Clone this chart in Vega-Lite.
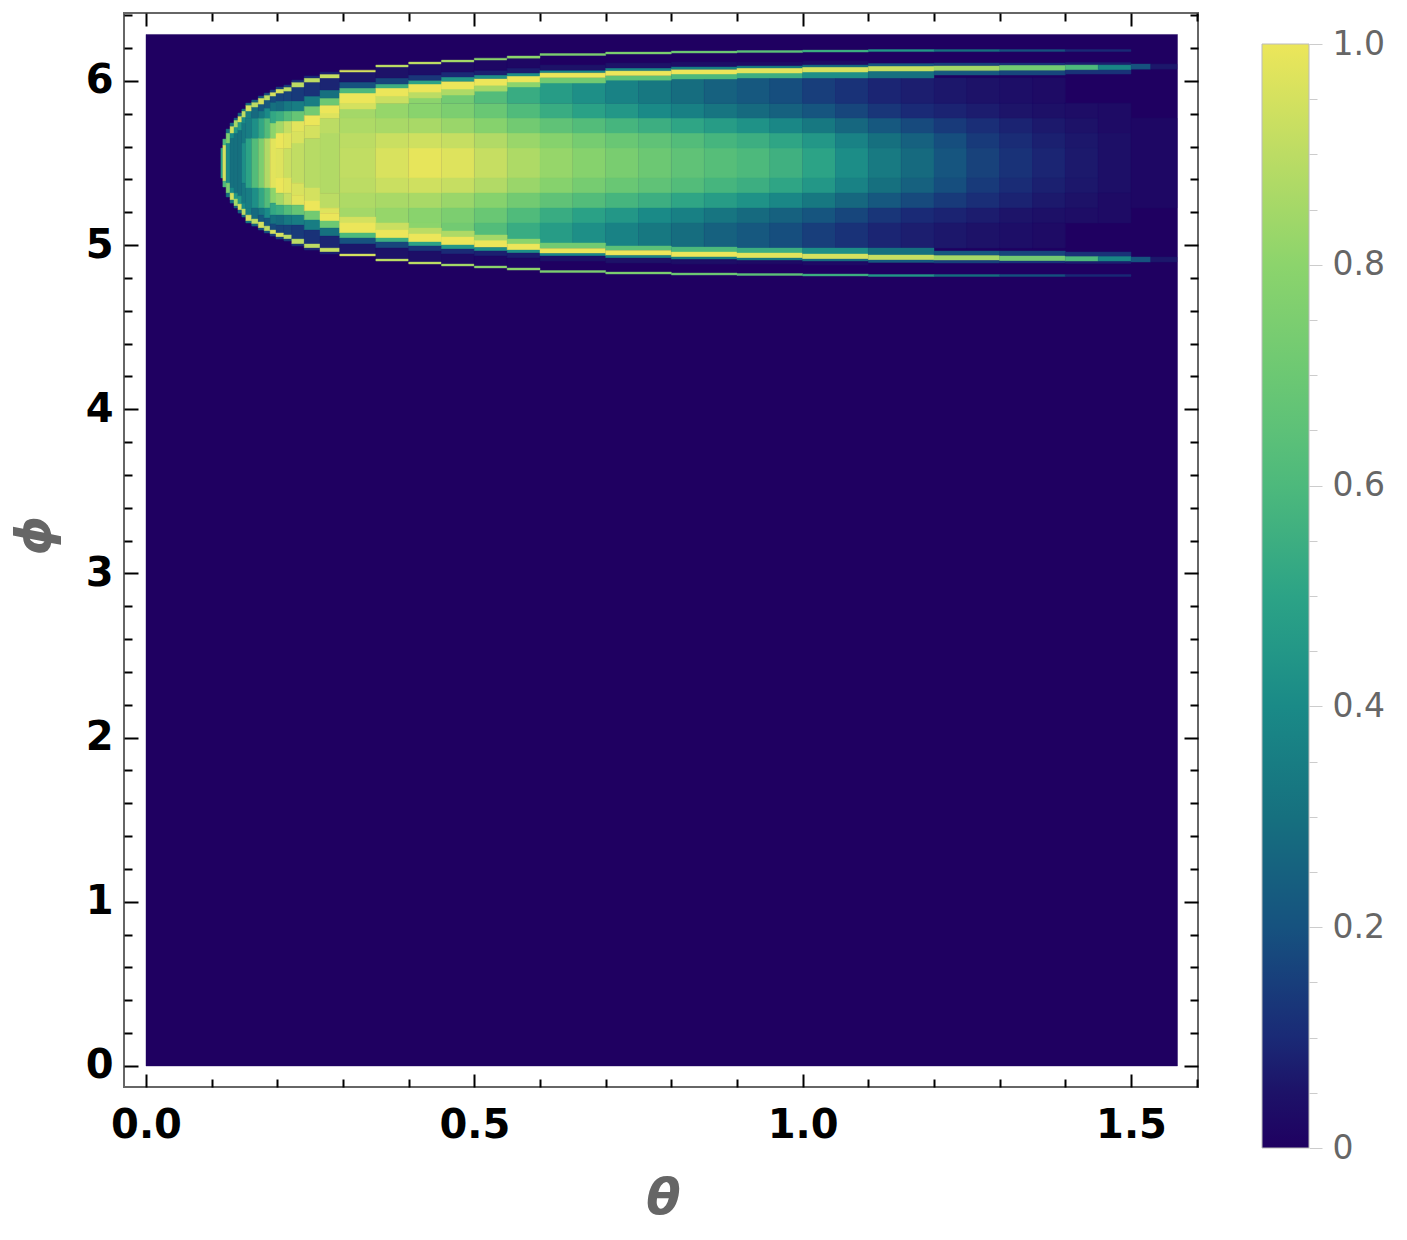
{"$schema":"https://vega.github.io/schema/vega-lite/v6.json","autosize":{"type":"none"},"padding":{"left":124,"top":13,"right":209,"bottom":153},"width":1074,"height":1074,"background":"white","config":{"view":{"stroke":"#666666","strokeWidth":2},"axis":{"grid":false,"domain":false,"tickColor":"#000000","tickWidth":2,"labelFont":"DejaVu Sans","labelFontWeight":"bold","labelFontSize":40,"labelColor":"#000000","labelOverlap":false,"labelBound":false,"labelFlush":false,"titleFont":"DejaVu Sans","titleFontWeight":"bold","titleFontStyle":"italic","titleFontSize":50,"titleColor":"#666666"}},
"datasets":{"tick":[{"t":0,"p":0}],
"cells":[
{"a":0,"b":1.5708,"c":0,"d":6.2832,"v":0},
{"a":0.114,"b":0.117,"c":5.409,"d":5.591,"v":0.5},
{"a":0.117,"b":0.122,"c":5.39,"d":5.61,"v":0.95},{"a":0.117,"b":0.122,"c":5.61,"d":5.646,"v":0.6},{"a":0.117,"b":0.122,"c":5.354,"d":5.39,"v":0.6},
{"a":0.122,"b":0.128,"c":5.378,"d":5.622,"v":0.4},{"a":0.122,"b":0.128,"c":5.622,"d":5.683,"v":0.75},{"a":0.122,"b":0.128,"c":5.317,"d":5.378,"v":0.75},{"a":0.122,"b":0.128,"c":5.683,"d":5.707,"v":0.3},{"a":0.122,"b":0.128,"c":5.293,"d":5.317,"v":0.3},
{"a":0.128,"b":0.134,"c":5.348,"d":5.652,"v":0.3},{"a":0.128,"b":0.134,"c":5.652,"d":5.683,"v":0.4},{"a":0.128,"b":0.134,"c":5.317,"d":5.348,"v":0.4},{"a":0.128,"b":0.134,"c":5.683,"d":5.725,"v":0.95},{"a":0.128,"b":0.134,"c":5.275,"d":5.317,"v":0.95},{"a":0.128,"b":0.134,"c":5.725,"d":5.744,"v":0.3},{"a":0.128,"b":0.134,"c":5.256,"d":5.275,"v":0.3},
{"a":0.134,"b":0.14,"c":5.317,"d":5.683,"v":0.3},{"a":0.134,"b":0.14,"c":5.683,"d":5.719,"v":0.45},{"a":0.134,"b":0.14,"c":5.281,"d":5.317,"v":0.45},{"a":0.134,"b":0.14,"c":5.719,"d":5.762,"v":0.85},{"a":0.134,"b":0.14,"c":5.238,"d":5.281,"v":0.85},{"a":0.134,"b":0.14,"c":5.762,"d":5.774,"v":0.25},{"a":0.134,"b":0.14,"c":5.226,"d":5.238,"v":0.25},
{"a":0.14,"b":0.146,"c":5.299,"d":5.701,"v":0.3},{"a":0.14,"b":0.146,"c":5.701,"d":5.75,"v":0.45},{"a":0.14,"b":0.146,"c":5.25,"d":5.299,"v":0.45},{"a":0.14,"b":0.146,"c":5.75,"d":5.786,"v":0.95},{"a":0.14,"b":0.146,"c":5.214,"d":5.25,"v":0.95},{"a":0.14,"b":0.146,"c":5.786,"d":5.805,"v":0.25},{"a":0.14,"b":0.146,"c":5.195,"d":5.214,"v":0.25},
{"a":0.146,"b":0.152,"c":5.378,"d":5.622,"v":0.42},{"a":0.146,"b":0.152,"c":5.622,"d":5.744,"v":0.33},{"a":0.146,"b":0.152,"c":5.256,"d":5.378,"v":0.33},{"a":0.146,"b":0.152,"c":5.744,"d":5.78,"v":0.4},{"a":0.146,"b":0.152,"c":5.22,"d":5.256,"v":0.4},{"a":0.146,"b":0.152,"c":5.78,"d":5.817,"v":0.9},{"a":0.146,"b":0.152,"c":5.183,"d":5.22,"v":0.9},{"a":0.146,"b":0.152,"c":5.817,"d":5.829,"v":0.3},{"a":0.146,"b":0.152,"c":5.171,"d":5.183,"v":0.3},
{"a":0.152,"b":0.161,"c":5.348,"d":5.652,"v":0.5},{"a":0.152,"b":0.161,"c":5.652,"d":5.774,"v":0.35},{"a":0.152,"b":0.161,"c":5.226,"d":5.348,"v":0.35},{"a":0.152,"b":0.161,"c":5.774,"d":5.817,"v":0.35},{"a":0.152,"b":0.161,"c":5.183,"d":5.226,"v":0.35},{"a":0.152,"b":0.161,"c":5.817,"d":5.853,"v":0.95},{"a":0.152,"b":0.161,"c":5.147,"d":5.183,"v":0.95},{"a":0.152,"b":0.161,"c":5.853,"d":5.865,"v":0.3},{"a":0.152,"b":0.161,"c":5.135,"d":5.147,"v":0.3},
{"a":0.161,"b":0.171,"c":5.348,"d":5.652,"v":0.62},{"a":0.161,"b":0.171,"c":5.652,"d":5.774,"v":0.42},{"a":0.161,"b":0.171,"c":5.226,"d":5.348,"v":0.42},{"a":0.161,"b":0.171,"c":5.774,"d":5.841,"v":0.28},{"a":0.161,"b":0.171,"c":5.159,"d":5.226,"v":0.28},{"a":0.161,"b":0.171,"c":5.841,"d":5.871,"v":0.9},{"a":0.161,"b":0.171,"c":5.129,"d":5.159,"v":0.9},{"a":0.161,"b":0.171,"c":5.871,"d":5.884,"v":0.25},{"a":0.161,"b":0.171,"c":5.116,"d":5.129,"v":0.25},
{"a":0.171,"b":0.18,"c":5.348,"d":5.652,"v":0.75},{"a":0.171,"b":0.18,"c":5.652,"d":5.774,"v":0.52},{"a":0.171,"b":0.18,"c":5.226,"d":5.348,"v":0.52},{"a":0.171,"b":0.18,"c":5.774,"d":5.817,"v":0.33},{"a":0.171,"b":0.18,"c":5.183,"d":5.226,"v":0.33},{"a":0.171,"b":0.18,"c":5.817,"d":5.859,"v":0.22},{"a":0.171,"b":0.18,"c":5.141,"d":5.183,"v":0.22},{"a":0.171,"b":0.18,"c":5.859,"d":5.896,"v":0.95},{"a":0.171,"b":0.18,"c":5.104,"d":5.141,"v":0.95},{"a":0.171,"b":0.18,"c":5.896,"d":5.908,"v":0.2},{"a":0.171,"b":0.18,"c":5.092,"d":5.104,"v":0.2},
{"a":0.18,"b":0.189,"c":5.348,"d":5.652,"v":0.88},{"a":0.18,"b":0.189,"c":5.652,"d":5.774,"v":0.62},{"a":0.18,"b":0.189,"c":5.226,"d":5.348,"v":0.62},{"a":0.18,"b":0.189,"c":5.774,"d":5.835,"v":0.4},{"a":0.18,"b":0.189,"c":5.165,"d":5.226,"v":0.4},{"a":0.18,"b":0.189,"c":5.835,"d":5.884,"v":0.22},{"a":0.18,"b":0.189,"c":5.116,"d":5.165,"v":0.22},{"a":0.18,"b":0.189,"c":5.884,"d":5.914,"v":0.9},{"a":0.18,"b":0.189,"c":5.086,"d":5.116,"v":0.9},{"a":0.18,"b":0.189,"c":5.914,"d":5.926,"v":0.2},{"a":0.18,"b":0.189,"c":5.074,"d":5.086,"v":0.2},
{"a":0.189,"b":0.198,"c":5.348,"d":5.652,"v":0.98},{"a":0.189,"b":0.198,"c":5.652,"d":5.744,"v":0.8},{"a":0.189,"b":0.198,"c":5.256,"d":5.348,"v":0.8},{"a":0.189,"b":0.198,"c":5.744,"d":5.817,"v":0.52},{"a":0.189,"b":0.198,"c":5.183,"d":5.256,"v":0.52},{"a":0.189,"b":0.198,"c":5.817,"d":5.871,"v":0.3},{"a":0.189,"b":0.198,"c":5.129,"d":5.183,"v":0.3},{"a":0.189,"b":0.198,"c":5.871,"d":5.908,"v":0.18},{"a":0.189,"b":0.198,"c":5.092,"d":5.129,"v":0.18},{"a":0.189,"b":0.198,"c":5.908,"d":5.932,"v":0.95},{"a":0.189,"b":0.198,"c":5.068,"d":5.092,"v":0.95},{"a":0.189,"b":0.198,"c":5.932,"d":5.945,"v":0.15},{"a":0.189,"b":0.198,"c":5.055,"d":5.068,"v":0.15},
{"a":0.198,"b":0.21,"c":5.409,"d":5.591,"v":0.97},{"a":0.198,"b":0.21,"c":5.591,"d":5.683,"v":1},{"a":0.198,"b":0.21,"c":5.317,"d":5.409,"v":1},{"a":0.198,"b":0.21,"c":5.683,"d":5.756,"v":0.85},{"a":0.198,"b":0.21,"c":5.244,"d":5.317,"v":0.85},{"a":0.198,"b":0.21,"c":5.756,"d":5.817,"v":0.55},{"a":0.198,"b":0.21,"c":5.183,"d":5.244,"v":0.55},{"a":0.198,"b":0.21,"c":5.817,"d":5.878,"v":0.28},{"a":0.198,"b":0.21,"c":5.122,"d":5.183,"v":0.28},{"a":0.198,"b":0.21,"c":5.878,"d":5.926,"v":0.16},{"a":0.198,"b":0.21,"c":5.074,"d":5.122,"v":0.16},{"a":0.198,"b":0.21,"c":5.926,"d":5.951,"v":0.95},{"a":0.198,"b":0.21,"c":5.049,"d":5.074,"v":0.95},{"a":0.198,"b":0.21,"c":5.951,"d":5.963,"v":0.15},{"a":0.198,"b":0.21,"c":5.037,"d":5.049,"v":0.15},
{"a":0.21,"b":0.222,"c":5.409,"d":5.591,"v":0.93},{"a":0.21,"b":0.222,"c":5.591,"d":5.683,"v":0.98},{"a":0.21,"b":0.222,"c":5.317,"d":5.409,"v":0.98},{"a":0.21,"b":0.222,"c":5.683,"d":5.756,"v":0.92},{"a":0.21,"b":0.222,"c":5.244,"d":5.317,"v":0.92},{"a":0.21,"b":0.222,"c":5.756,"d":5.817,"v":0.62},{"a":0.21,"b":0.222,"c":5.183,"d":5.244,"v":0.62},{"a":0.21,"b":0.222,"c":5.817,"d":5.878,"v":0.33},{"a":0.21,"b":0.222,"c":5.122,"d":5.183,"v":0.33},{"a":0.21,"b":0.222,"c":5.878,"d":5.938,"v":0.16},{"a":0.21,"b":0.222,"c":5.062,"d":5.122,"v":0.16},{"a":0.21,"b":0.222,"c":5.938,"d":5.963,"v":0.9},{"a":0.21,"b":0.222,"c":5.037,"d":5.062,"v":0.9},{"a":0.21,"b":0.222,"c":5.963,"d":5.975,"v":0.15},{"a":0.21,"b":0.222,"c":5.025,"d":5.037,"v":0.15},
{"a":0.222,"b":0.241,"c":5.378,"d":5.622,"v":0.91},{"a":0.222,"b":0.241,"c":5.622,"d":5.695,"v":0.96},{"a":0.222,"b":0.241,"c":5.305,"d":5.378,"v":0.96},{"a":0.222,"b":0.241,"c":5.695,"d":5.756,"v":0.98},{"a":0.222,"b":0.241,"c":5.244,"d":5.305,"v":0.98},{"a":0.222,"b":0.241,"c":5.756,"d":5.817,"v":0.68},{"a":0.222,"b":0.241,"c":5.183,"d":5.244,"v":0.68},{"a":0.222,"b":0.241,"c":5.817,"d":5.878,"v":0.35},{"a":0.222,"b":0.241,"c":5.122,"d":5.183,"v":0.35},{"a":0.222,"b":0.241,"c":5.878,"d":5.963,"v":0.14},{"a":0.222,"b":0.241,"c":5.037,"d":5.122,"v":0.14},{"a":0.222,"b":0.241,"c":5.963,"d":5.993,"v":0.9},{"a":0.222,"b":0.241,"c":5.007,"d":5.037,"v":0.9},{"a":0.222,"b":0.241,"c":5.993,"d":6.005,"v":0.12},{"a":0.222,"b":0.241,"c":4.995,"d":5.007,"v":0.12},
{"a":0.241,"b":0.265,"c":5.348,"d":5.652,"v":0.89},{"a":0.241,"b":0.265,"c":5.652,"d":5.731,"v":0.95},{"a":0.241,"b":0.265,"c":5.269,"d":5.348,"v":0.95},{"a":0.241,"b":0.265,"c":5.731,"d":5.792,"v":1},{"a":0.241,"b":0.265,"c":5.208,"d":5.269,"v":1},{"a":0.241,"b":0.265,"c":5.792,"d":5.847,"v":0.72},{"a":0.241,"b":0.265,"c":5.153,"d":5.208,"v":0.72},{"a":0.241,"b":0.265,"c":5.847,"d":5.908,"v":0.35},{"a":0.241,"b":0.265,"c":5.092,"d":5.153,"v":0.35},{"a":0.241,"b":0.265,"c":5.908,"d":5.993,"v":0.12},{"a":0.241,"b":0.265,"c":5.007,"d":5.092,"v":0.12},{"a":0.241,"b":0.265,"c":5.993,"d":6.018,"v":0.9},{"a":0.241,"b":0.265,"c":4.982,"d":5.007,"v":0.9},{"a":0.241,"b":0.265,"c":6.018,"d":6.03,"v":0.1},{"a":0.241,"b":0.265,"c":4.97,"d":4.982,"v":0.1},
{"a":0.265,"b":0.295,"c":5.317,"d":5.683,"v":0.88},{"a":0.265,"b":0.295,"c":5.683,"d":5.774,"v":0.9},{"a":0.265,"b":0.295,"c":5.226,"d":5.317,"v":0.9},{"a":0.265,"b":0.295,"c":5.774,"d":5.805,"v":0.97},{"a":0.265,"b":0.295,"c":5.195,"d":5.226,"v":0.97},{"a":0.265,"b":0.295,"c":5.805,"d":5.853,"v":1},{"a":0.265,"b":0.295,"c":5.147,"d":5.195,"v":1},{"a":0.265,"b":0.295,"c":5.853,"d":5.896,"v":0.7},{"a":0.265,"b":0.295,"c":5.104,"d":5.147,"v":0.7},{"a":0.265,"b":0.295,"c":5.896,"d":5.945,"v":0.3},{"a":0.265,"b":0.295,"c":5.055,"d":5.104,"v":0.3},{"a":0.265,"b":0.295,"c":5.945,"d":6.018,"v":0.09},{"a":0.265,"b":0.295,"c":4.982,"d":5.055,"v":0.09},{"a":0.265,"b":0.295,"c":6.018,"d":6.042,"v":0.92},{"a":0.265,"b":0.295,"c":4.958,"d":4.982,"v":0.92},{"a":0.265,"b":0.295,"c":6.042,"d":6.054,"v":0.08},{"a":0.265,"b":0.295,"c":4.946,"d":4.958,"v":0.08},
{"a":0.295,"b":0.35,"c":5.409,"d":5.591,"v":0.91},{"a":0.295,"b":0.35,"c":5.591,"d":5.683,"v":0.9},{"a":0.295,"b":0.35,"c":5.317,"d":5.409,"v":0.9},{"a":0.295,"b":0.35,"c":5.683,"d":5.774,"v":0.87},{"a":0.295,"b":0.35,"c":5.226,"d":5.317,"v":0.87},{"a":0.295,"b":0.35,"c":5.774,"d":5.865,"v":0.85},{"a":0.295,"b":0.35,"c":5.135,"d":5.226,"v":0.85},{"a":0.295,"b":0.35,"c":5.865,"d":5.926,"v":0.88},{"a":0.295,"b":0.35,"c":5.074,"d":5.135,"v":0.88},
{"a":0.35,"b":0.4,"c":5.409,"d":5.591,"v":0.96},{"a":0.35,"b":0.4,"c":5.591,"d":5.683,"v":0.93},{"a":0.35,"b":0.4,"c":5.317,"d":5.409,"v":0.93},{"a":0.35,"b":0.4,"c":5.683,"d":5.774,"v":0.86},{"a":0.35,"b":0.4,"c":5.226,"d":5.317,"v":0.86},{"a":0.35,"b":0.4,"c":5.774,"d":5.865,"v":0.82},{"a":0.35,"b":0.4,"c":5.135,"d":5.226,"v":0.82},{"a":0.35,"b":0.4,"c":5.865,"d":5.926,"v":0.85},{"a":0.35,"b":0.4,"c":5.074,"d":5.135,"v":0.85},
{"a":0.4,"b":0.45,"c":5.409,"d":5.591,"v":0.99},{"a":0.4,"b":0.45,"c":5.591,"d":5.683,"v":0.94},{"a":0.4,"b":0.45,"c":5.317,"d":5.409,"v":0.94},{"a":0.4,"b":0.45,"c":5.683,"d":5.774,"v":0.86},{"a":0.4,"b":0.45,"c":5.226,"d":5.317,"v":0.86},{"a":0.4,"b":0.45,"c":5.774,"d":5.865,"v":0.79},{"a":0.4,"b":0.45,"c":5.135,"d":5.226,"v":0.79},{"a":0.4,"b":0.45,"c":5.865,"d":5.987,"v":0.8},{"a":0.4,"b":0.45,"c":5.013,"d":5.135,"v":0.8},
{"a":0.45,"b":0.5,"c":5.409,"d":5.591,"v":0.97},{"a":0.45,"b":0.5,"c":5.591,"d":5.683,"v":0.92},{"a":0.45,"b":0.5,"c":5.317,"d":5.409,"v":0.92},{"a":0.45,"b":0.5,"c":5.683,"d":5.774,"v":0.83},{"a":0.45,"b":0.5,"c":5.226,"d":5.317,"v":0.83},{"a":0.45,"b":0.5,"c":5.774,"d":5.865,"v":0.75},{"a":0.45,"b":0.5,"c":5.135,"d":5.226,"v":0.75},{"a":0.45,"b":0.5,"c":5.865,"d":5.987,"v":0.72},{"a":0.45,"b":0.5,"c":5.013,"d":5.135,"v":0.72},
{"a":0.5,"b":0.55,"c":5.409,"d":5.591,"v":0.92},{"a":0.5,"b":0.55,"c":5.591,"d":5.683,"v":0.88},{"a":0.5,"b":0.55,"c":5.317,"d":5.409,"v":0.88},{"a":0.5,"b":0.55,"c":5.683,"d":5.774,"v":0.78},{"a":0.5,"b":0.55,"c":5.226,"d":5.317,"v":0.78},{"a":0.5,"b":0.55,"c":5.774,"d":5.865,"v":0.69},{"a":0.5,"b":0.55,"c":5.135,"d":5.226,"v":0.69},{"a":0.5,"b":0.55,"c":5.865,"d":5.987,"v":0.62},{"a":0.5,"b":0.55,"c":5.013,"d":5.135,"v":0.62},
{"a":0.55,"b":0.6,"c":5.409,"d":5.591,"v":0.87},{"a":0.55,"b":0.6,"c":5.591,"d":5.683,"v":0.83},{"a":0.55,"b":0.6,"c":5.317,"d":5.409,"v":0.83},{"a":0.55,"b":0.6,"c":5.683,"d":5.774,"v":0.72},{"a":0.55,"b":0.6,"c":5.226,"d":5.317,"v":0.72},{"a":0.55,"b":0.6,"c":5.774,"d":5.865,"v":0.61},{"a":0.55,"b":0.6,"c":5.135,"d":5.226,"v":0.61},{"a":0.55,"b":0.6,"c":5.865,"d":5.987,"v":0.54},{"a":0.55,"b":0.6,"c":5.013,"d":5.135,"v":0.54},
{"a":0.6,"b":0.65,"c":5.409,"d":5.591,"v":0.82},{"a":0.6,"b":0.65,"c":5.591,"d":5.683,"v":0.78},{"a":0.6,"b":0.65,"c":5.317,"d":5.409,"v":0.78},{"a":0.6,"b":0.65,"c":5.683,"d":5.774,"v":0.66},{"a":0.6,"b":0.65,"c":5.226,"d":5.317,"v":0.66},{"a":0.6,"b":0.65,"c":5.774,"d":5.865,"v":0.54},{"a":0.6,"b":0.65,"c":5.135,"d":5.226,"v":0.54},{"a":0.6,"b":0.65,"c":5.865,"d":6.018,"v":0.47},{"a":0.6,"b":0.65,"c":4.982,"d":5.135,"v":0.47},
{"a":0.65,"b":0.7,"c":5.409,"d":5.591,"v":0.78},{"a":0.65,"b":0.7,"c":5.591,"d":5.683,"v":0.73},{"a":0.65,"b":0.7,"c":5.317,"d":5.409,"v":0.73},{"a":0.65,"b":0.7,"c":5.683,"d":5.774,"v":0.62},{"a":0.65,"b":0.7,"c":5.226,"d":5.317,"v":0.62},{"a":0.65,"b":0.7,"c":5.774,"d":5.865,"v":0.49},{"a":0.65,"b":0.7,"c":5.135,"d":5.226,"v":0.49},{"a":0.65,"b":0.7,"c":5.865,"d":6.018,"v":0.42},{"a":0.65,"b":0.7,"c":4.982,"d":5.135,"v":0.42},
{"a":0.7,"b":0.75,"c":5.409,"d":5.591,"v":0.74},{"a":0.7,"b":0.75,"c":5.591,"d":5.683,"v":0.69},{"a":0.7,"b":0.75,"c":5.317,"d":5.409,"v":0.69},{"a":0.7,"b":0.75,"c":5.683,"d":5.774,"v":0.58},{"a":0.7,"b":0.75,"c":5.226,"d":5.317,"v":0.58},{"a":0.7,"b":0.75,"c":5.774,"d":5.865,"v":0.45},{"a":0.7,"b":0.75,"c":5.135,"d":5.226,"v":0.45},{"a":0.7,"b":0.75,"c":5.865,"d":6.018,"v":0.37},{"a":0.7,"b":0.75,"c":4.982,"d":5.135,"v":0.37},
{"a":0.75,"b":0.8,"c":5.409,"d":5.591,"v":0.7},{"a":0.75,"b":0.8,"c":5.591,"d":5.683,"v":0.66},{"a":0.75,"b":0.8,"c":5.317,"d":5.409,"v":0.66},{"a":0.75,"b":0.8,"c":5.683,"d":5.774,"v":0.55},{"a":0.75,"b":0.8,"c":5.226,"d":5.317,"v":0.55},{"a":0.75,"b":0.8,"c":5.774,"d":5.865,"v":0.4},{"a":0.75,"b":0.8,"c":5.135,"d":5.226,"v":0.4},{"a":0.75,"b":0.8,"c":5.865,"d":6.018,"v":0.33},{"a":0.75,"b":0.8,"c":4.982,"d":5.135,"v":0.33},
{"a":0.8,"b":0.85,"c":5.409,"d":5.591,"v":0.66},{"a":0.8,"b":0.85,"c":5.591,"d":5.683,"v":0.62},{"a":0.8,"b":0.85,"c":5.317,"d":5.409,"v":0.62},{"a":0.8,"b":0.85,"c":5.683,"d":5.774,"v":0.51},{"a":0.8,"b":0.85,"c":5.226,"d":5.317,"v":0.51},{"a":0.8,"b":0.85,"c":5.774,"d":5.865,"v":0.36},{"a":0.8,"b":0.85,"c":5.135,"d":5.226,"v":0.36},{"a":0.8,"b":0.85,"c":5.865,"d":6.018,"v":0.29},{"a":0.8,"b":0.85,"c":4.982,"d":5.135,"v":0.29},
{"a":0.85,"b":0.9,"c":5.409,"d":5.591,"v":0.63},{"a":0.85,"b":0.9,"c":5.591,"d":5.683,"v":0.58},{"a":0.85,"b":0.9,"c":5.317,"d":5.409,"v":0.58},{"a":0.85,"b":0.9,"c":5.683,"d":5.774,"v":0.47},{"a":0.85,"b":0.9,"c":5.226,"d":5.317,"v":0.47},{"a":0.85,"b":0.9,"c":5.774,"d":5.865,"v":0.32},{"a":0.85,"b":0.9,"c":5.135,"d":5.226,"v":0.32},{"a":0.85,"b":0.9,"c":5.865,"d":6.018,"v":0.25},{"a":0.85,"b":0.9,"c":4.982,"d":5.135,"v":0.25},
{"a":0.9,"b":0.95,"c":5.409,"d":5.591,"v":0.6},{"a":0.9,"b":0.95,"c":5.591,"d":5.683,"v":0.55},{"a":0.9,"b":0.95,"c":5.317,"d":5.409,"v":0.55},{"a":0.9,"b":0.95,"c":5.683,"d":5.774,"v":0.43},{"a":0.9,"b":0.95,"c":5.226,"d":5.317,"v":0.43},{"a":0.9,"b":0.95,"c":5.774,"d":5.865,"v":0.28},{"a":0.9,"b":0.95,"c":5.135,"d":5.226,"v":0.28},{"a":0.9,"b":0.95,"c":5.865,"d":6.018,"v":0.22},{"a":0.9,"b":0.95,"c":4.982,"d":5.135,"v":0.22},
{"a":0.95,"b":1,"c":5.409,"d":5.591,"v":0.56},{"a":0.95,"b":1,"c":5.591,"d":5.683,"v":0.51},{"a":0.95,"b":1,"c":5.317,"d":5.409,"v":0.51},{"a":0.95,"b":1,"c":5.683,"d":5.774,"v":0.39},{"a":0.95,"b":1,"c":5.226,"d":5.317,"v":0.39},{"a":0.95,"b":1,"c":5.774,"d":5.865,"v":0.25},{"a":0.95,"b":1,"c":5.135,"d":5.226,"v":0.25},{"a":0.95,"b":1,"c":5.865,"d":6.018,"v":0.19},{"a":0.95,"b":1,"c":4.982,"d":5.135,"v":0.19},
{"a":1,"b":1.05,"c":5.409,"d":5.591,"v":0.5},{"a":1,"b":1.05,"c":5.591,"d":5.683,"v":0.45},{"a":1,"b":1.05,"c":5.317,"d":5.409,"v":0.45},{"a":1,"b":1.05,"c":5.683,"d":5.774,"v":0.33},{"a":1,"b":1.05,"c":5.226,"d":5.317,"v":0.33},{"a":1,"b":1.05,"c":5.774,"d":5.865,"v":0.21},{"a":1,"b":1.05,"c":5.135,"d":5.226,"v":0.21},{"a":1,"b":1.05,"c":5.865,"d":6.018,"v":0.15},{"a":1,"b":1.05,"c":4.982,"d":5.135,"v":0.15},
{"a":1.05,"b":1.1,"c":5.409,"d":5.591,"v":0.41},{"a":1.05,"b":1.1,"c":5.591,"d":5.683,"v":0.37},{"a":1.05,"b":1.1,"c":5.317,"d":5.409,"v":0.37},{"a":1.05,"b":1.1,"c":5.683,"d":5.774,"v":0.27},{"a":1.05,"b":1.1,"c":5.226,"d":5.317,"v":0.27},{"a":1.05,"b":1.1,"c":5.774,"d":5.865,"v":0.17},{"a":1.05,"b":1.1,"c":5.135,"d":5.226,"v":0.17},{"a":1.05,"b":1.1,"c":5.865,"d":6.018,"v":0.12},{"a":1.05,"b":1.1,"c":4.982,"d":5.135,"v":0.12},
{"a":1.1,"b":1.15,"c":5.409,"d":5.591,"v":0.34},{"a":1.1,"b":1.15,"c":5.591,"d":5.683,"v":0.3},{"a":1.1,"b":1.15,"c":5.317,"d":5.409,"v":0.3},{"a":1.1,"b":1.15,"c":5.683,"d":5.774,"v":0.22},{"a":1.1,"b":1.15,"c":5.226,"d":5.317,"v":0.22},{"a":1.1,"b":1.15,"c":5.774,"d":5.865,"v":0.13},{"a":1.1,"b":1.15,"c":5.135,"d":5.226,"v":0.13},{"a":1.1,"b":1.15,"c":5.865,"d":6.018,"v":0.09},{"a":1.1,"b":1.15,"c":4.982,"d":5.135,"v":0.09},
{"a":1.15,"b":1.2,"c":5.409,"d":5.591,"v":0.28},{"a":1.15,"b":1.2,"c":5.591,"d":5.683,"v":0.25},{"a":1.15,"b":1.2,"c":5.317,"d":5.409,"v":0.25},{"a":1.15,"b":1.2,"c":5.683,"d":5.774,"v":0.18},{"a":1.15,"b":1.2,"c":5.226,"d":5.317,"v":0.18},{"a":1.15,"b":1.2,"c":5.774,"d":5.865,"v":0.1},{"a":1.15,"b":1.2,"c":5.135,"d":5.226,"v":0.1},{"a":1.15,"b":1.2,"c":5.865,"d":6.018,"v":0.075},{"a":1.15,"b":1.2,"c":4.982,"d":5.135,"v":0.075},
{"a":1.2,"b":1.25,"c":5.409,"d":5.591,"v":0.21},{"a":1.2,"b":1.25,"c":5.591,"d":5.683,"v":0.19},{"a":1.2,"b":1.25,"c":5.317,"d":5.409,"v":0.19},{"a":1.2,"b":1.25,"c":5.683,"d":5.774,"v":0.14},{"a":1.2,"b":1.25,"c":5.226,"d":5.317,"v":0.14},{"a":1.2,"b":1.25,"c":5.774,"d":5.865,"v":0.085},{"a":1.2,"b":1.25,"c":5.135,"d":5.226,"v":0.085},{"a":1.2,"b":1.25,"c":5.865,"d":6.018,"v":0.06},{"a":1.2,"b":1.25,"c":4.982,"d":5.135,"v":0.06},
{"a":1.25,"b":1.3,"c":5.409,"d":5.591,"v":0.16},{"a":1.25,"b":1.3,"c":5.591,"d":5.683,"v":0.14},{"a":1.25,"b":1.3,"c":5.317,"d":5.409,"v":0.14},{"a":1.25,"b":1.3,"c":5.683,"d":5.774,"v":0.11},{"a":1.25,"b":1.3,"c":5.226,"d":5.317,"v":0.11},{"a":1.25,"b":1.3,"c":5.774,"d":5.865,"v":0.07},{"a":1.25,"b":1.3,"c":5.135,"d":5.226,"v":0.07},{"a":1.25,"b":1.3,"c":5.865,"d":6.018,"v":0.05},{"a":1.25,"b":1.3,"c":4.982,"d":5.135,"v":0.05},
{"a":1.3,"b":1.35,"c":5.409,"d":5.591,"v":0.12},{"a":1.3,"b":1.35,"c":5.591,"d":5.683,"v":0.105},{"a":1.3,"b":1.35,"c":5.317,"d":5.409,"v":0.105},{"a":1.3,"b":1.35,"c":5.683,"d":5.774,"v":0.085},{"a":1.3,"b":1.35,"c":5.226,"d":5.317,"v":0.085},{"a":1.3,"b":1.35,"c":5.774,"d":5.865,"v":0.055},{"a":1.3,"b":1.35,"c":5.135,"d":5.226,"v":0.055},{"a":1.3,"b":1.35,"c":5.865,"d":6.018,"v":0.04},{"a":1.3,"b":1.35,"c":4.982,"d":5.135,"v":0.04},
{"a":1.35,"b":1.4,"c":5.409,"d":5.591,"v":0.09},{"a":1.35,"b":1.4,"c":5.591,"d":5.683,"v":0.08},{"a":1.35,"b":1.4,"c":5.317,"d":5.409,"v":0.08},{"a":1.35,"b":1.4,"c":5.683,"d":5.774,"v":0.065},{"a":1.35,"b":1.4,"c":5.226,"d":5.317,"v":0.065},{"a":1.35,"b":1.4,"c":5.774,"d":5.865,"v":0.045},{"a":1.35,"b":1.4,"c":5.135,"d":5.226,"v":0.045},{"a":1.35,"b":1.4,"c":5.865,"d":6.018,"v":0.03},{"a":1.35,"b":1.4,"c":4.982,"d":5.135,"v":0.03},
{"a":1.4,"b":1.45,"c":5.409,"d":5.591,"v":0.065},{"a":1.4,"b":1.45,"c":5.317,"d":5.409,"v":0.06},{"a":1.4,"b":1.45,"c":5.591,"d":5.683,"v":0.06},{"a":1.4,"b":1.45,"c":5.683,"d":5.774,"v":0.05},{"a":1.4,"b":1.45,"c":5.226,"d":5.317,"v":0.05},{"a":1.4,"b":1.45,"c":5.774,"d":5.865,"v":0.035},{"a":1.4,"b":1.45,"c":5.135,"d":5.226,"v":0.035},
{"a":1.45,"b":1.5,"c":5.317,"d":5.683,"v":0.042},{"a":1.45,"b":1.5,"c":5.683,"d":5.865,"v":0.03},{"a":1.45,"b":1.5,"c":5.135,"d":5.317,"v":0.03},
{"a":1.5,"b":1.57,"c":5.226,"d":5.774,"v":0.02},
{"a":0.295,"b":0.35,"c":5.829,"d":5.865,"v":0.95},{"a":0.295,"b":0.35,"c":5.135,"d":5.171,"v":0.95},{"a":0.295,"b":0.35,"c":5.865,"d":5.926,"v":1},{"a":0.295,"b":0.35,"c":5.074,"d":5.135,"v":1},{"a":0.295,"b":0.35,"c":5.926,"d":5.957,"v":0.6},{"a":0.295,"b":0.35,"c":5.043,"d":5.074,"v":0.6},{"a":0.295,"b":0.35,"c":5.957,"d":5.993,"v":0.2},{"a":0.295,"b":0.35,"c":5.007,"d":5.043,"v":0.2},{"a":0.295,"b":0.35,"c":5.993,"d":6.054,"v":0.06},{"a":0.295,"b":0.35,"c":4.946,"d":5.007,"v":0.06},{"a":0.295,"b":0.35,"c":6.054,"d":6.066,"v":0.95},{"a":0.295,"b":0.35,"c":4.934,"d":4.946,"v":0.95},
{"a":0.35,"b":0.4,"c":5.865,"d":5.908,"v":0.93},{"a":0.35,"b":0.4,"c":5.092,"d":5.135,"v":0.93},{"a":0.35,"b":0.4,"c":5.908,"d":5.957,"v":1},{"a":0.35,"b":0.4,"c":5.043,"d":5.092,"v":1},{"a":0.35,"b":0.4,"c":5.957,"d":5.981,"v":0.55},{"a":0.35,"b":0.4,"c":5.019,"d":5.043,"v":0.55},{"a":0.35,"b":0.4,"c":5.981,"d":6.018,"v":0.17},{"a":0.35,"b":0.4,"c":4.982,"d":5.019,"v":0.17},{"a":0.35,"b":0.4,"c":6.018,"d":6.085,"v":0.05},{"a":0.35,"b":0.4,"c":4.915,"d":4.982,"v":0.05},{"a":0.35,"b":0.4,"c":6.085,"d":6.097,"v":0.9},{"a":0.35,"b":0.4,"c":4.903,"d":4.915,"v":0.9},
{"a":0.4,"b":0.45,"c":5.896,"d":5.932,"v":0.9},{"a":0.4,"b":0.45,"c":5.068,"d":5.104,"v":0.9},{"a":0.4,"b":0.45,"c":5.932,"d":5.981,"v":1},{"a":0.4,"b":0.45,"c":5.019,"d":5.068,"v":1},{"a":0.4,"b":0.45,"c":5.981,"d":6.005,"v":0.5},{"a":0.4,"b":0.45,"c":4.995,"d":5.019,"v":0.5},{"a":0.4,"b":0.45,"c":6.005,"d":6.036,"v":0.13},{"a":0.4,"b":0.45,"c":4.964,"d":4.995,"v":0.13},{"a":0.4,"b":0.45,"c":6.036,"d":6.103,"v":0.04},{"a":0.4,"b":0.45,"c":4.897,"d":4.964,"v":0.04},{"a":0.4,"b":0.45,"c":6.103,"d":6.115,"v":0.9},{"a":0.4,"b":0.45,"c":4.885,"d":4.897,"v":0.9},
{"a":0.45,"b":0.5,"c":5.914,"d":5.951,"v":0.87},{"a":0.45,"b":0.5,"c":5.049,"d":5.086,"v":0.87},{"a":0.45,"b":0.5,"c":5.951,"d":5.999,"v":1},{"a":0.45,"b":0.5,"c":5.001,"d":5.049,"v":1},{"a":0.45,"b":0.5,"c":5.999,"d":6.024,"v":0.45},{"a":0.45,"b":0.5,"c":4.976,"d":5.001,"v":0.45},{"a":0.45,"b":0.5,"c":6.024,"d":6.054,"v":0.1},{"a":0.45,"b":0.5,"c":4.946,"d":4.976,"v":0.1},{"a":0.45,"b":0.5,"c":6.054,"d":6.115,"v":0.03},{"a":0.45,"b":0.5,"c":4.885,"d":4.946,"v":0.03},{"a":0.45,"b":0.5,"c":6.115,"d":6.127,"v":0.85},{"a":0.45,"b":0.5,"c":4.873,"d":4.885,"v":0.85},
{"a":0.5,"b":0.55,"c":5.938,"d":5.972,"v":0.85},{"a":0.5,"b":0.55,"c":5.028,"d":5.062,"v":0.85},{"a":0.5,"b":0.55,"c":5.972,"d":6.015,"v":1},{"a":0.5,"b":0.55,"c":4.985,"d":5.028,"v":1},{"a":0.5,"b":0.55,"c":6.015,"d":6.036,"v":0.42},{"a":0.5,"b":0.55,"c":4.964,"d":4.985,"v":0.42},{"a":0.5,"b":0.55,"c":6.036,"d":6.066,"v":0.08},{"a":0.5,"b":0.55,"c":4.934,"d":4.964,"v":0.08},{"a":0.5,"b":0.55,"c":6.066,"d":6.127,"v":0.02},{"a":0.5,"b":0.55,"c":4.873,"d":4.934,"v":0.02},{"a":0.5,"b":0.55,"c":6.127,"d":6.139,"v":0.8},{"a":0.5,"b":0.55,"c":4.861,"d":4.873,"v":0.8},
{"a":0.55,"b":0.6,"c":5.963,"d":5.993,"v":0.8},{"a":0.55,"b":0.6,"c":5.007,"d":5.037,"v":0.8},{"a":0.55,"b":0.6,"c":5.993,"d":6.03,"v":1},{"a":0.55,"b":0.6,"c":4.97,"d":5.007,"v":1},{"a":0.55,"b":0.6,"c":6.03,"d":6.048,"v":0.42},{"a":0.55,"b":0.6,"c":4.952,"d":4.97,"v":0.42},{"a":0.55,"b":0.6,"c":6.048,"d":6.079,"v":0.07},{"a":0.55,"b":0.6,"c":4.921,"d":4.952,"v":0.07},{"a":0.55,"b":0.6,"c":6.079,"d":6.139,"v":0.02},{"a":0.55,"b":0.6,"c":4.861,"d":4.921,"v":0.02},{"a":0.55,"b":0.6,"c":6.139,"d":6.152,"v":0.8},{"a":0.55,"b":0.6,"c":4.848,"d":4.861,"v":0.8},
{"a":0.6,"b":0.7,"c":5.987,"d":6.021,"v":0.72},{"a":0.6,"b":0.7,"c":4.979,"d":5.013,"v":0.72},{"a":0.6,"b":0.7,"c":6.021,"d":6.051,"v":1},{"a":0.6,"b":0.7,"c":4.949,"d":4.979,"v":1},{"a":0.6,"b":0.7,"c":6.051,"d":6.066,"v":0.4},{"a":0.6,"b":0.7,"c":4.934,"d":4.949,"v":0.4},{"a":0.6,"b":0.7,"c":6.066,"d":6.097,"v":0.05},{"a":0.6,"b":0.7,"c":4.903,"d":4.934,"v":0.05},{"a":0.6,"b":0.7,"c":6.155,"d":6.167,"v":0.75},{"a":0.6,"b":0.7,"c":4.833,"d":4.845,"v":0.75},
{"a":0.7,"b":0.8,"c":6.005,"d":6.033,"v":0.65},{"a":0.7,"b":0.8,"c":4.967,"d":4.995,"v":0.65},{"a":0.7,"b":0.8,"c":6.033,"d":6.063,"v":1},{"a":0.7,"b":0.8,"c":4.937,"d":4.967,"v":1},{"a":0.7,"b":0.8,"c":6.063,"d":6.079,"v":0.38},{"a":0.7,"b":0.8,"c":4.921,"d":4.937,"v":0.38},{"a":0.7,"b":0.8,"c":6.079,"d":6.109,"v":0.05},{"a":0.7,"b":0.8,"c":4.891,"d":4.921,"v":0.05},{"a":0.7,"b":0.8,"c":6.164,"d":6.176,"v":0.75},{"a":0.7,"b":0.8,"c":4.824,"d":4.836,"v":0.75},
{"a":0.8,"b":0.9,"c":6.012,"d":6.042,"v":0.6},{"a":0.8,"b":0.9,"c":4.958,"d":4.988,"v":0.6},{"a":0.8,"b":0.9,"c":6.042,"d":6.072,"v":1},{"a":0.8,"b":0.9,"c":4.928,"d":4.958,"v":1},{"a":0.8,"b":0.9,"c":6.072,"d":6.088,"v":0.36},{"a":0.8,"b":0.9,"c":4.912,"d":4.928,"v":0.36},{"a":0.8,"b":0.9,"c":6.088,"d":6.115,"v":0.04},{"a":0.8,"b":0.9,"c":4.885,"d":4.912,"v":0.04},{"a":0.8,"b":0.9,"c":6.17,"d":6.182,"v":0.7},{"a":0.8,"b":0.9,"c":4.818,"d":4.83,"v":0.7},
{"a":0.9,"b":1,"c":6.018,"d":6.048,"v":0.55},{"a":0.9,"b":1,"c":4.952,"d":4.982,"v":0.55},{"a":0.9,"b":1,"c":6.048,"d":6.079,"v":0.98},{"a":0.9,"b":1,"c":4.921,"d":4.952,"v":0.98},{"a":0.9,"b":1,"c":6.079,"d":6.094,"v":0.33},{"a":0.9,"b":1,"c":4.906,"d":4.921,"v":0.33},{"a":0.9,"b":1,"c":6.094,"d":6.115,"v":0.03},{"a":0.9,"b":1,"c":4.885,"d":4.906,"v":0.03},{"a":0.9,"b":1,"c":6.173,"d":6.185,"v":0.65},{"a":0.9,"b":1,"c":4.815,"d":4.827,"v":0.65},
{"a":1,"b":1.1,"c":6.018,"d":6.054,"v":0.42},{"a":1,"b":1.1,"c":4.946,"d":4.982,"v":0.42},{"a":1,"b":1.1,"c":6.054,"d":6.085,"v":0.95},{"a":1,"b":1.1,"c":4.915,"d":4.946,"v":0.95},{"a":1,"b":1.1,"c":6.085,"d":6.1,"v":0.28},{"a":1,"b":1.1,"c":4.9,"d":4.915,"v":0.28},{"a":1,"b":1.1,"c":6.1,"d":6.121,"v":0.03},{"a":1,"b":1.1,"c":4.879,"d":4.9,"v":0.03},{"a":1,"b":1.1,"c":6.176,"d":6.188,"v":0.55},{"a":1,"b":1.1,"c":4.812,"d":4.824,"v":0.55},
{"a":1.1,"b":1.2,"c":6.018,"d":6.06,"v":0.3},{"a":1.1,"b":1.2,"c":4.94,"d":4.982,"v":0.3},{"a":1.1,"b":1.2,"c":6.06,"d":6.091,"v":0.92},{"a":1.1,"b":1.2,"c":4.909,"d":4.94,"v":0.92},{"a":1.1,"b":1.2,"c":6.091,"d":6.106,"v":0.22},{"a":1.1,"b":1.2,"c":4.894,"d":4.909,"v":0.22},{"a":1.1,"b":1.2,"c":6.179,"d":6.191,"v":0.45},{"a":1.1,"b":1.2,"c":4.809,"d":4.821,"v":0.45},
{"a":1.2,"b":1.3,"c":6.036,"d":6.063,"v":0.22},{"a":1.2,"b":1.3,"c":4.937,"d":4.964,"v":0.22},{"a":1.2,"b":1.3,"c":6.063,"d":6.094,"v":0.85},{"a":1.2,"b":1.3,"c":4.906,"d":4.937,"v":0.85},{"a":1.2,"b":1.3,"c":6.094,"d":6.109,"v":0.16},{"a":1.2,"b":1.3,"c":4.891,"d":4.906,"v":0.16},{"a":1.2,"b":1.3,"c":6.179,"d":6.191,"v":0.3},{"a":1.2,"b":1.3,"c":4.809,"d":4.821,"v":0.3},
{"a":1.3,"b":1.4,"c":6.036,"d":6.066,"v":0.17},{"a":1.3,"b":1.4,"c":4.934,"d":4.964,"v":0.17},{"a":1.3,"b":1.4,"c":6.066,"d":6.097,"v":0.72},{"a":1.3,"b":1.4,"c":4.903,"d":4.934,"v":0.72},{"a":1.3,"b":1.4,"c":6.097,"d":6.109,"v":0.12},{"a":1.3,"b":1.4,"c":4.891,"d":4.903,"v":0.12},{"a":1.3,"b":1.4,"c":6.179,"d":6.191,"v":0.2},{"a":1.3,"b":1.4,"c":4.809,"d":4.821,"v":0.2},
{"a":1.4,"b":1.5,"c":6.042,"d":6.069,"v":0.12},{"a":1.4,"b":1.5,"c":4.931,"d":4.958,"v":0.12},{"a":1.4,"b":1.45,"c":6.069,"d":6.1,"v":0.6},{"a":1.4,"b":1.45,"c":4.9,"d":4.931,"v":0.6},{"a":1.45,"b":1.5,"c":6.069,"d":6.1,"v":0.38},{"a":1.45,"b":1.5,"c":4.9,"d":4.931,"v":0.38},{"a":1.4,"b":1.5,"c":6.1,"d":6.112,"v":0.08},{"a":1.4,"b":1.5,"c":4.888,"d":4.9,"v":0.08},{"a":1.4,"b":1.5,"c":6.179,"d":6.191,"v":0.1},{"a":1.4,"b":1.5,"c":4.809,"d":4.821,"v":0.1},
{"a":1.5,"b":1.53,"c":6.072,"d":6.103,"v":0.2},{"a":1.5,"b":1.53,"c":4.897,"d":4.928,"v":0.2},{"a":1.53,"b":1.57,"c":6.072,"d":6.103,"v":0.06},{"a":1.53,"b":1.57,"c":4.897,"d":4.928,"v":0.06}
]},
"resolve":{"scale":{"x":"independent","y":"independent"},"axis":{"x":"independent","y":"independent"}},
"layer":[
{"data":{"name":"cells"},"mark":{"type":"rect","strokeWidth":0.4,"stroke":{"expr":"scale('color',datum.v)"}},"encoding":{
"x":{"field":"a","type":"quantitative","scale":{"domain":[-0.0335,1.602],"nice":false,"zero":false},"axis":null},
"x2":{"field":"b"},
"y":{"field":"c","type":"quantitative","scale":{"domain":[-0.128,6.414],"nice":false,"zero":false},"axis":null},
"y2":{"field":"d"},
"color":{"field":"v","type":"quantitative","scale":{"interpolate":"rgb","domain":[0,0.05,0.1,0.2,0.3,0.4,0.5,0.6,0.7,0.8,0.9,1],"range":["#1f0061","#1d1268","#1a2a76","#16527f","#16707f","#1a8a87","#2ca386","#4db97c","#6cc873","#8cd46c","#bcdc64","#ece65a"]},"legend":{"orient":"none","legendX":1138,"legendY":31,"padding":0,"title":null,"direction":"vertical","gradientLength":1104,"gradientThickness":47,"gradientStrokeColor":"#bbbbbb","gradientStrokeWidth":1,"labelOpacity":0,"labelFontSize":1}}
}},
{"data":{"name":"tick"},"mark":{"type":"point","opacity":0},"encoding":{
"x":{"field":"t","type":"quantitative","title":"θ","scale":{"domain":[-0.0335,1.602],"nice":false,"zero":false},"axis":{"orient":"bottom","values":[0,0.5,1,1.5],"format":".1f","tickSize":-13,"labelPadding":31,"titleX":539,"titleY":126,"titleBaseline":"alphabetic"}},
"y":{"field":"p","type":"quantitative","title":"ϕ","scale":{"domain":[-0.128,6.414],"nice":false,"zero":false},"axis":{"orient":"left","values":[0,1,2,3,4,5,6],"format":"d","tickSize":-14,"labelPadding":25,"titleX":-74,"titleY":522,"titleAngle":-90,"titleBaseline":"alphabetic"}}}},
{"data":{"name":"tick"},"mark":{"type":"point","opacity":0},"encoding":{
"x":{"field":"t","type":"quantitative","title":null,"scale":{"domain":[-0.0335,1.602],"nice":false,"zero":false},"axis":{"orient":"bottom","values":[0.1,0.2,0.3,0.4,0.6,0.7,0.8,0.9,1.1,1.2,1.3,1.4,1.6],"labels":false,"tickSize":-8}},
"y":{"field":"p","type":"quantitative","title":null,"scale":{"domain":[-0.128,6.414],"nice":false,"zero":false},"axis":{"orient":"left","values":[0.2,0.4,0.6,0.8,1.2,1.4,1.6,1.8,2.2,2.4,2.6,2.8,3.2,3.4,3.6,3.8,4.2,4.4,4.6,4.8,5.2,5.4,5.6,5.8,6.2,6.4],"labels":false,"tickSize":-8}}}},
{"data":{"name":"tick"},"mark":{"type":"point","opacity":0},"encoding":{
"x":{"field":"t","type":"quantitative","title":null,"scale":{"domain":[-0.0335,1.602],"nice":false,"zero":false},"axis":{"orient":"top","values":[0,0.5,1,1.5],"labels":false,"tickSize":-13}},
"y":{"field":"p","type":"quantitative","title":null,"scale":{"domain":[-0.128,6.414],"nice":false,"zero":false},"axis":{"orient":"right","values":[0,1,2,3,4,5,6],"labels":false,"tickSize":-14}}}},
{"data":{"name":"tick"},"mark":{"type":"point","opacity":0},"encoding":{
"x":{"field":"t","type":"quantitative","title":null,"scale":{"domain":[-0.0335,1.602],"nice":false,"zero":false},"axis":{"orient":"top","values":[0.1,0.2,0.3,0.4,0.6,0.7,0.8,0.9,1.1,1.2,1.3,1.4,1.6],"labels":false,"tickSize":-8}},
"y":{"field":"p","type":"quantitative","title":null,"scale":{"domain":[-0.128,6.414],"nice":false,"zero":false},"axis":{"orient":"right","values":[0.2,0.4,0.6,0.8,1.2,1.4,1.6,1.8,2.2,2.4,2.6,2.8,3.2,3.4,3.6,3.8,4.2,4.4,4.6,4.8,5.2,5.4,5.6,5.8,6.2,6.4],"labels":false,"tickSize":-8}}}},
{"data":{"name":"tick"},"mark":{"type":"point","opacity":0},"encoding":{
"y":{"field":"t","type":"quantitative","title":null,"scale":{"domain":[0,1],"range":[1135,31],"nice":false,"zero":false},"axis":{"orient":"right","offset":111,"values":[0,0.2,0.4,0.6,0.8,1],"labelExpr":"datum.value==0?'0':format(datum.value,'.1f')","tickSize":13,"tickWidth":1,"tickColor":"#cccccc","labelPadding":10,"labelFont":"DejaVu Sans","labelFontWeight":"normal","labelFontSize":33,"labelColor":"#666666"}}}},
{"data":{"name":"tick"},"mark":{"type":"point","opacity":0},"encoding":{
"y":{"field":"t","type":"quantitative","title":null,"scale":{"domain":[0,1],"range":[1135,31],"nice":false,"zero":false},"axis":{"orient":"right","offset":111,"values":[0.05,0.1,0.15,0.25,0.3,0.35,0.45,0.5,0.55,0.65,0.7,0.75,0.85,0.9,0.95],"labels":false,"tickSize":8,"tickWidth":1,"tickColor":"#cccccc"}}}}
]}
